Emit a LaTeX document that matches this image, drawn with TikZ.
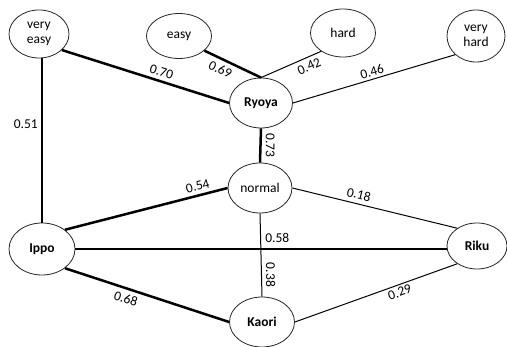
\documentclass[tikz,border=0pt]{standalone}
\usepackage{fontspec}
\setmainfont{Carlito}
\usetikzlibrary{shapes.geometric}
\begin{document}
\begin{tikzpicture}[x=1pt,y=-1pt,
  el/.style={draw=black!85, line width=0.8pt, ellipse, inner sep=0pt, font=\fontsize{13.5}{15.5}\selectfont, align=center},
  nm/.style={el, font=\fontsize{13.5}{15.5}\selectfont\bfseries},
  strong/.style={line width=2.5pt},
  weak/.style={line width=1pt},
  lbl/.style={font=\fontsize{13.5}{15.5}\selectfont, inner sep=1pt},
  vlbl/.style={lbl, rotate=-90, anchor=south, inner ysep=4pt}]
\useasboundingbox (0,0) rectangle (507,347);

\node[el, minimum width=60pt, minimum height=48pt] (veasy) at (39,34) {very\\easy};
\node[el, minimum width=65pt, minimum height=45pt] (easy) at (179,36) {easy};
\node[el, minimum width=65pt, minimum height=48pt] (hard) at (343,33) {hard};
\node[el, minimum width=58pt, minimum height=52pt] (vhard) at (476,36) {very\\hard};
\node[nm, minimum width=63pt, minimum height=50pt] (ryoya) at (261,103) {Ryoya};
\node[el, minimum width=64pt, minimum height=50pt] (normal) at (260,188) {normal};
\node[nm, minimum width=66pt, minimum height=52pt] (ippo) at (42,249) {Ippo};
\node[nm, minimum width=60pt, minimum height=46pt] (riku) at (477,246) {Riku};
\node[nm, minimum width=65pt, minimum height=50pt] (kaori) at (262,322) {Kaori};

\draw[strong] (veasy.-35) -- node[lbl, pos=0.58, sloped, above=2.5pt] {0.70} (ryoya.west);
\draw[strong] (easy.-30) -- node[lbl, pos=0.36, sloped, below=3pt] {0.69} (ryoya.north);
\draw[weak] (ryoya.north) -- node[lbl, pos=0.74, sloped, below=3pt] {0.42} (hard.220);
\draw[weak] (ryoya.east) -- node[lbl, midway, sloped, above=1pt] {0.46} (vhard.222);
\draw[strong] (ryoya.south) -- node[vlbl, midway] {0.73} (normal.north);
\draw[strong] (ippo.north |- veasy.south) -- node[lbl, pos=0.4, left=2pt] {0.51} (ippo.north);
\draw[strong] (ippo.40) -- node[lbl, pos=0.83, sloped, above=2.5pt] {0.54} (normal.west);
\draw[strong] (ippo.east) -- node[lbl, pos=0.544, above=4pt] {0.58} (ippo.east -| riku.west);
\draw[strong] (ippo.-40) -- node[lbl, pos=0.39, sloped, below=3pt] {0.68} (kaori.west);
\draw[weak] (normal.east) -- node[lbl, pos=0.39, sloped, above=3pt] {0.18} (riku.138);
\draw[weak] (normal.south) -- node[vlbl, pos=0.74] {0.38} (kaori.north);
\draw[weak] (kaori.east) -- node[lbl, pos=0.63, sloped, below=1.5pt] {0.29} (riku.222);
\end{tikzpicture}
\end{document}
